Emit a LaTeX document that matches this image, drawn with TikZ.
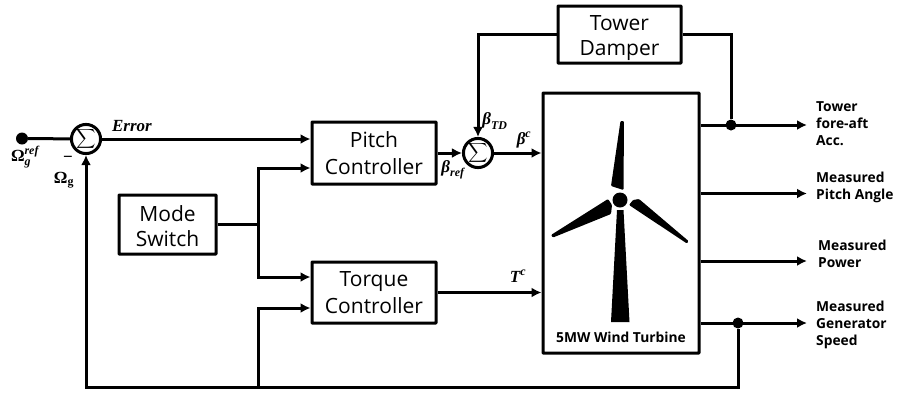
\documentclass[tikz,border=0pt]{standalone}
\usepackage{amsmath,amssymb}
\usepackage{fontspec}
\setmainfont{Open Sans}[BoldFont={Open Sans Bold}]
\newfontfamily\mlab{Liberation Serif}
\newcommand{\mi}[1]{\text{\mlab\bfseries\itshape #1}}
\newcommand{\mb}[1]{\text{\mlab\bfseries #1}}
\usetikzlibrary{arrows.meta,calc}
\tikzset{
 x=1pt,y=-1pt,
 blockbox/.style={draw=black,line width=3pt,minimum width=#1,align=center,inner sep=0pt,font=\fontsize{21}{26.5}\selectfont,rounded corners=0.5pt},
 boxtext/.style={align=center,inner sep=0pt,font=\fontsize{21}{25.5}\selectfont},
 sumnode/.style={circle,draw=black,line width=3pt,minimum size=29pt,inner sep=0pt,font=\fontsize{13.5}{15}\selectfont},
 wire/.style={draw=black,line width=3pt},
 arrowwire/.style={-{Latex[length=10pt,width=10pt]},wire},
 jointdot/.style={circle,fill=black,inner sep=0pt,minimum size=11pt},
 outlabel/.style={font=\fontsize{13.8}{17}\selectfont\bfseries,align=left,anchor=west,inner sep=0pt},
 mathlabel/.style={font=\fontsize{17}{19}\selectfont,inner sep=0pt},
 turbine/.style={fill=black,draw=none,rounded corners=1pt}
}
\begin{document}
\begin{tikzpicture}
\useasboundingbox (0,0) rectangle (898,392);
% blocks
\node[blockbox=123pt,minimum height=57pt] (damper) at (619.5,34.5) {};
\node[boxtext] (dampertext) at (619.5,38) {Tower\\Damper};
\node[blockbox=124pt,minimum height=62pt] (pitch) at (374,153) {Pitch\\Controller};
\node[blockbox=97pt,minimum height=59pt] (mode) at (167.5,224.5) {};
\node[boxtext] (modetext) at (167.5,226) {Mode\\Switch};
\node[blockbox=124pt,minimum height=61pt] (torque) at (374,292.5) {Torque\\Controller};
\node[draw=black,line width=3pt,minimum width=156pt,minimum height=260pt,inner sep=0pt,rounded corners=0.5pt] (wt) at (621,223) {};
\node[sumnode] (s1) at (86,139) {$\displaystyle\sum$};
\node[sumnode] (s2) at (478,153) {$\displaystyle\sum$};
% turbine drawing
\fill[turbine] (620.5,121) -- (624,121) -- (623.5,190) -- (611,186) -- cycle;
\fill[turbine] (551,235) -- (553,237.5) -- (611,214) -- (612,205) -- (608,199) -- cycle;
\fill[turbine] (688.5,241) -- (687,243.5) -- (629,205) -- (633,200) -- (639,199) -- cycle;
\fill[black] (617,210) -- (623.5,210) -- (629.5,322) -- (611,322) -- cycle;
\node[circle,fill=black,minimum size=15pt,inner sep=0pt] (hub) at (620,200) {};
\node[font=\fontsize{13.8}{15}\selectfont\bfseries,inner sep=0pt] (wtl) at (621,337) {5MW Wind Turbine};
% junctions
\node[jointdot,minimum size=12pt] (start) at (22,138.5) {};
\node[jointdot] (j1) at (731,125) {};
\node[jointdot] (j2) at (738,323) {};
\coordinate (jm) at (258,224.5);
\coordinate (jb) at (258,387);
% output ends
\coordinate (o1) at (807,125);
\coordinate (o2) at (807,193.5);
\coordinate (o3) at (807,261);
\coordinate (o4) at (807,323);
% connectors
\draw[wire] (start) -- (s1);
\draw[arrowwire] (s1.east) -- (s1.east -| pitch.west);
\draw[arrowwire] (pitch.east |- s2) -- (s2.west);
\draw[arrowwire] (s2.east) -- (s2.east -| wt.west);
\draw[arrowwire] (torque.east) -- (torque.east -| wt.west);
\draw[wire] (mode.east) -- (jm);
\draw[arrowwire] (jm) |- ($(pitch.west)+(0,15)$);
\draw[arrowwire] (jm) |- ($(torque.west)+(0,-15.5)$);
\draw[arrowwire] (damper.west) -| (s2.north);
\draw[wire] (damper.east) -| (j1);
\draw[arrowwire] (wt.east |- o1) -- (o1);
\draw[arrowwire] (wt.east |- o2) -- (o2);
\draw[arrowwire] (wt.east |- o3) -- (o3);
\draw[arrowwire] (wt.east |- o4) -- (o4);
\draw[arrowwire] (j2) |- (jb) -| (s1.south);
\draw[arrowwire] (jb) |- ($(torque.west)+(0,15.5)$);
% output labels
\node[outlabel] (l1) at (816,124) {Tower\\fore-aft\\Acc.};
\node[outlabel] (l2) at (816,187) {Measured\\Pitch Angle};
\node[outlabel] (l3) at (818,254) {Measured\\Power};
\node[outlabel] (l4) at (816,325) {Measured\\Generator\\Speed};
% math labels
\node[mathlabel] (m1) at (25,157) {$\mb{Ω}_{\mi{g}}^{\mi{ref}}$};
\node[mathlabel] (m2) at (68,159) {$\mb{−}$};
\node[mathlabel] (m3) at (64,180) {$\mb{Ω}_{\mb{g}}$};
\node[mathlabel] (m4) at (132,126) {\mi{Error}};
\node[mathlabel] (m5) at (453,170) {$\mi{β}_{\mi{ref}}$};
\node[mathlabel] (m6) at (495,121) {$\mi{β}_{\mi{TD}}$};
\node[mathlabel] (m7) at (524,140) {$\mi{β}^{\mi{c}}$};
\node[mathlabel] (m8) at (518,276) {$\mi{T}^{\mi{c}}$};
\end{tikzpicture}
\end{document}
